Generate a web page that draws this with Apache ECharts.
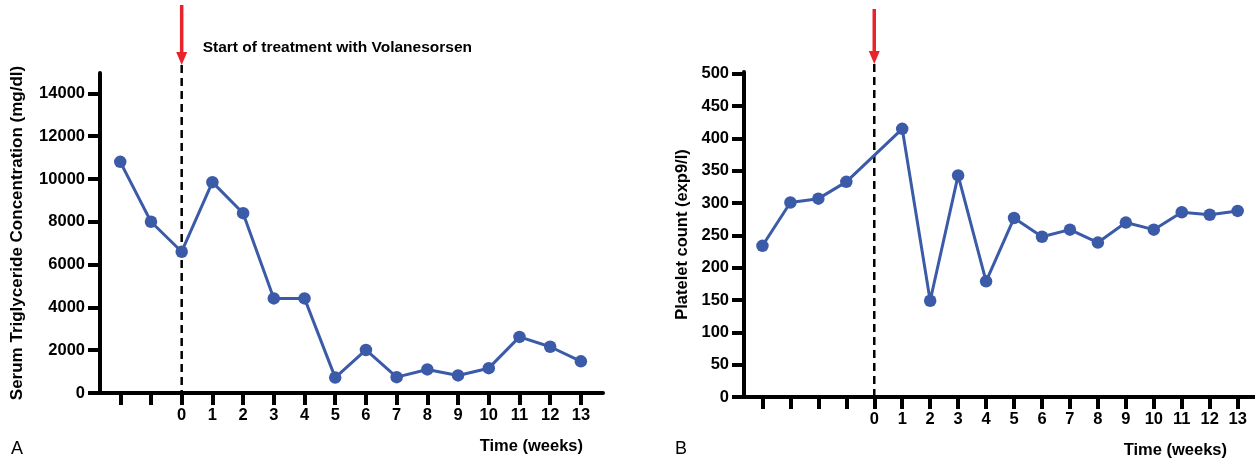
<!DOCTYPE html>
<html><head><meta charset="utf-8">
<script src="https://cdn.jsdelivr.net/npm/echarts@6/dist/echarts.min.js"></script>
<style>html,body{margin:0;padding:0;background:#fff}#c{width:1255px;height:460px}</style>
</head><body><div id="c"></div>
<script>
// ---- data ----
const weeksA = [-2, -1, 0, 1, 2, 3, 4, 5, 6, 7, 8, 9, 10, 11, 12, 13];
const triglycerides = [10800, 8000, 6600, 9850, 8400, 4420, 4420, 720, 2010, 740, 1100, 820, 1160, 2620, 2160, 1480];
const weeksB = [-4, -3, -2, -1, 1, 2, 3, 4, 5, 6, 7, 8, 9, 10, 11, 12, 13];
const platelets = [234, 301, 307, 333, 415, 149, 343, 179, 277, 248, 259, 239, 270, 259, 286, 282, 288];
const tickWeeksA = [-2, -1, 0, 1, 2, 3, 4, 5, 6, 7, 8, 9, 10, 11, 12, 13];
const tickWeeksB = [-4, -3, -2, -1, 0, 1, 2, 3, 4, 5, 6, 7, 8, 9, 10, 11, 12, 13];
const labelWeeks = [0, 1, 2, 3, 4, 5, 6, 7, 8, 9, 10, 11, 12, 13];
const yTicksA = [0, 2000, 4000, 6000, 8000, 10000, 12000, 14000];
const yTicksB = [0, 50, 100, 150, 200, 250, 300, 350, 400, 450, 500];
const yNameA = 'Serum Triglyceride Concentration (mg/dl)';
const yNameB = 'Platelet count (exp9/l)';
const xName = 'Time (weeks)';
const annotation = 'Start of treatment with Volanesorsen';

const FONT = "'Liberation Sans', Arial, sans-serif";
const BLUE = '#3B5BA8';
const RED = '#E8232A';

function xAxisCfg(grid, min, max, ticks) {
  return {
    type: 'value', gridIndex: grid, min: min, max: max,
    axisLine: { show: true, onZero: false, lineStyle: { color: '#000', width: 4 } },
    axisTick: { show: true, length: 12, customValues: ticks, lineStyle: { color: '#000', width: 4 } },
    axisLabel: { customValues: labelWeeks, margin: 14, color: '#000', fontSize: 16.5, fontWeight: 'bold', fontFamily: FONT, formatter: v => String(v) },
    splitLine: { show: false }
  };
}
function yAxisCfg(grid, max, ticks, name, gap, nameSize) {
  return {
    type: 'value', gridIndex: grid, min: 0, max: max,
    name: name, nameLocation: 'middle', nameGap: gap,
    nameTextStyle: { color: '#000', fontSize: nameSize, fontWeight: 'bold', fontFamily: FONT },
    axisLine: { show: true, onZero: false, lineStyle: { color: '#000', width: 4 } },
    axisTick: { show: true, length: 12, customValues: ticks, lineStyle: { color: '#000', width: 4 } },
    axisLabel: { customValues: ticks, margin: 15, color: '#000', fontSize: 16.5, fontWeight: 'bold', fontFamily: FONT, formatter: v => String(v) },
    splitLine: { show: false }
  };
}
function lineSeries(idx, xs, ys) {
  return {
    type: 'line', xAxisIndex: idx, yAxisIndex: idx,
    data: xs.map((x, i) => [x, ys[i]]),
    symbol: 'circle', symbolSize: 12.5,
    lineStyle: { color: BLUE, width: 3 },
    itemStyle: { color: BLUE },
    animation: false
  };
}

const chart = echarts.init(document.getElementById('c'), null, { renderer: 'canvas' });
chart.setOption({
  animation: false,
  grid: [
    { left: 100, top: 73, width: 503, height: 320 },
    { left: 744, top: 72, width: 511, height: 325 }
  ],
  xAxis: [xAxisCfg(0, -2.66, 13.72, tickWeeksA), xAxisCfg(1, -4.66, 13.62, tickWeeksB)],
  yAxis: [yAxisCfg(0, 14950, yTicksA, yNameA, 74, 17), yAxisCfg(1, 503, yTicksB, yNameB, 53, 16.5)],
  series: [lineSeries(0, weeksA, triglycerides), lineSeries(1, weeksB, platelets)]
});

function annotations(idx, arrowTop, lineTop) {
  const x = chart.convertToPixel({ xAxisIndex: idx }, 0);
  const yb = chart.convertToPixel({ yAxisIndex: idx }, 0);
  const headTop = lineTop - 13;
  return [
    { type: 'line', shape: { x1: x, y1: lineTop, x2: x, y2: yb }, style: { stroke: '#000', lineWidth: 2.5, lineDash: [8, 5] }, z: 1 },
    { type: 'line', shape: { x1: x, y1: arrowTop, x2: x, y2: headTop + 1 }, style: { stroke: RED, lineWidth: 3.5 }, z: 5 },
    { type: 'polygon', shape: { points: [[x - 5.5, headTop], [x + 5.5, headTop], [x, lineTop]] }, style: { fill: RED }, z: 5 }
  ];
}
const xA = chart.convertToPixel({ xAxisIndex: 0 }, 0);
chart.setOption({
  graphic: [].concat(
    annotations(0, 5, 65),
    annotations(1, 9, 64),
    [
      { type: 'text', x: xA + 21, y: 48, style: { text: annotation, font: "bold 15.5px " + FONT, fill: '#000', verticalAlign: 'middle' } },
      { type: 'text', x: 583, y: 446, style: { text: xName, font: "bold 16.5px " + FONT, fill: '#000', align: 'right', verticalAlign: 'middle' } },
      { type: 'text', x: 1227, y: 450, style: { text: xName, font: "bold 16.5px " + FONT, fill: '#000', align: 'right', verticalAlign: 'middle' } },
      { type: 'text', x: 11, y: 449, style: { text: 'A', font: "18px " + FONT, fill: '#000', verticalAlign: 'middle' } },
      { type: 'text', x: 675, y: 449, style: { text: 'B', font: "18px " + FONT, fill: '#000', verticalAlign: 'middle' } }
    ]
  )
});
</script></body></html>
